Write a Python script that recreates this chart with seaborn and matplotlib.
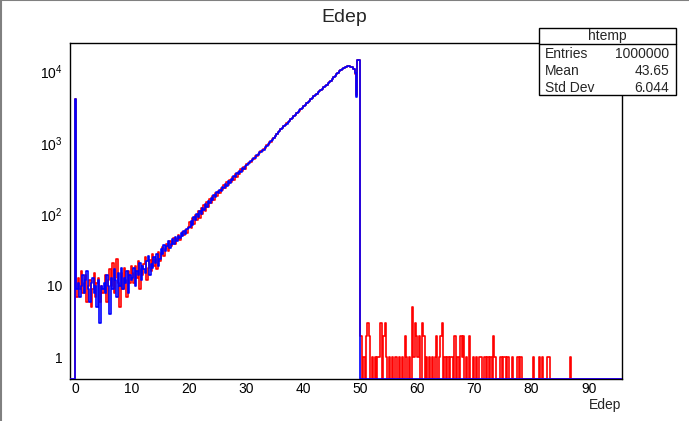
import numpy as np
import pandas as pd
import seaborn as sns
import matplotlib
matplotlib.use("Agg")
import matplotlib.pyplot as plt
from matplotlib.lines import Line2D
from matplotlib.patches import Rectangle
from matplotlib.ticker import LogLocator, MultipleLocator, NullFormatter, FixedLocator, FixedFormatter

# ---- data ----
# spike at Edep = 0 (narrow bin 0 .. 0.1)
red_spike = 4050
blue_spike = 4100

# counts for bin 0.1-0.25, then 0.25 wide bins up to 50 (one row = 5 units)
red_main = [
    10, 7, 13, 9, 16, 8, 11, 14, 6, 10, 12, 5, 9, 15, 7, 11, 13, 6, 10, 8,
    9, 14, 6, 12, 17, 10, 21, 8, 13, 24, 11, 5, 15, 9, 18, 12, 7, 16, 11, 19,
    15, 11, 19, 13, 22, 9, 17, 14, 20, 25, 12, 18, 23, 16, 28, 19, 24, 17, 30, 22,
    29, 35, 26, 33, 38, 31, 42, 36, 40, 47, 39, 45, 52, 44, 49, 57, 51, 60, 55, 66,
    78, 64, 88, 74, 97, 82, 110, 90, 122, 100, 135, 112, 150, 126, 166, 142, 182, 160, 200, 178,
    212, 196, 234, 216, 256, 236, 280, 258, 304, 280, 332, 306, 362, 334, 394, 364, 426, 398, 462, 430,
    497, 500, 541, 546, 590, 592, 645, 650, 702, 708, 764, 772, 830, 848, 922, 938, 1020, 1035, 1125, 1150,
    1243, 1311, 1398, 1471, 1553, 1617, 1703, 1776, 1864, 1946, 2043, 2136, 2244, 2336, 2453, 2566, 2694, 2816, 2954, 3086,
    3234, 3376, 3545, 3706, 3885, 4056, 4264, 4455, 4666, 4855, 5066, 5264, 5486, 5695, 5936, 6174, 6446, 6735, 7066, 7394,
    7782, 8186, 8624, 9096, 9565, 9946, 10306, 10636, 10966, 11254, 11506, 11646, 11766, 11514, 11344, 10620, 9100, 4600, 14300, 14200,
]
blue_main = [
    12, 9, 11, 7, 10, 14, 8, 12, 16, 9, 6, 11, 13, 8, 10, 5, 12, 3, 10, 9,
    11, 8, 14, 10, 4, 13, 9, 17, 12, 7, 15, 10, 18, 9, 13, 11, 16, 8, 14, 12,
    13, 18, 10, 16, 14, 21, 12, 19, 17, 15, 22, 26, 14, 20, 18, 25, 21, 28, 19, 24,
    33, 28, 37, 31, 36, 42, 34, 39, 45, 38, 48, 43, 50, 46, 54, 49, 58, 53, 62, 64,
    66, 80, 72, 92, 82, 102, 92, 112, 102, 124, 114, 138, 128, 154, 142, 170, 158, 188, 176, 206,
    198, 220, 212, 244, 232, 266, 252, 292, 276, 316, 302, 346, 330, 378, 360, 408, 392, 444, 428, 480,
    481, 520, 524, 564, 566, 617, 620, 676, 676, 736, 736, 798, 800, 870, 886, 966, 980, 1066, 1085, 1182,
    1237, 1319, 1392, 1479, 1547, 1623, 1697, 1784, 1856, 1954, 2037, 2144, 2236, 2344, 2447, 2574, 2686, 2824, 2946, 3094,
    3226, 3384, 3535, 3714, 3875, 4064, 4256, 4465, 4654, 4865, 5054, 5276, 5474, 5705, 5924, 6186, 6434, 6745, 7054, 7406,
    7774, 8194, 8616, 9104, 9555, 9954, 10296, 10644, 10956, 11264, 11496, 11656, 11756, 11524, 11334, 10630, 9400, 4400, 14500, 14400,
]

# red tail above 50, 0.25 wide bins (blue has nothing there)
red_tail = [
    2, 0, 1, 0, 2, 3, 2, 0, 1, 0,
    1, 0, 1, 1, 3, 0, 2, 3, 1, 0,
    1, 0, 1, 0, 1, 1, 0, 1, 0, 1,
    0, 2, 1, 0, 1, 0, 5, 1, 3, 2,
    1, 2, 0, 3, 2, 0, 1, 0, 1, 0,
    1, 0, 1, 2, 0, 1, 2, 3, 0, 1,
    0, 1, 0, 1, 1, 0, 2, 0, 1, 0,
    2, 1, 2, 0, 1, 0, 2, 0, 0, 1,
    0, 1, 0, 1, 1, 0, 0, 1, 0, 1,
    0, 1, 0, 2, 1, 0, 0, 0, 1, 0,
    1, 1, 0, 1, 0, 0, 1, 0, 0, 0,
    1, 0, 1, 0, 0, 0, 0, 0, 0, 0,
    0, 1, 0, 0, 0, 1, 0, 1, 0, 0,
    0, 1, 1, 0, 0, 0, 0, 0, 0, 0,
    0, 0, 0, 0, 0, 0, 0, 1, 0, 0,
    0, 0,
]
blue_tail = []

stats_rows = [("Entries", "1000000"), ("Mean", "43.65"), ("Std Dev", "6.044")]

# ---- bin edges ----
main_edges = np.concatenate([[0.1], np.arange(0.25, 50.125, 0.25)])
tail_edges = np.arange(50.25, 96.01, 0.25)
edges = np.concatenate([[-1.0, 0.0], main_edges, tail_edges])
n_tail = len(tail_edges)
centers = 0.5 * (edges[:-1] + edges[1:])

YMIN, YMAX = 0.5, 2.5e4


def hist_frame(spike, main, tail):
    tail = list(tail) + [0] * (n_tail - len(tail))
    h = np.array([0, spike] + list(main) + tail, dtype=float)
    # empty bins are drawn on the bottom of the frame, like ROOT does
    return pd.DataFrame({"edep": centers, "n": np.clip(h, YMIN, None)})


sns.set_style("white")
plt.rcParams["font.family"] = ["Liberation Sans", "DejaVu Sans"]

fig = plt.figure(figsize=(6.89, 4.21), dpi=100)
ax = fig.add_axes([0.1009, 0.0998, 0.8014, 0.7988])

for spike, main, tail, col in [(red_spike, red_main, red_tail, "#ff0000"),
                               (blue_spike, blue_main, blue_tail, "#0000ff")]:
    sns.histplot(data=hist_frame(spike, main, tail), x="edep", weights="n",
                 bins=list(edges), element="step", fill=False, color=col,
                 linewidth=1.2, ax=ax)

for ln in ax.lines:
    ln.set_zorder(3)

ax.set_yscale("log")
ax.set_xlim(-0.96, 95.8)
ax.set_ylim(YMIN, YMAX)
ax.set_ylabel("")

ax.xaxis.set_major_locator(MultipleLocator(10))
ax.xaxis.set_minor_locator(MultipleLocator(2))
ax.yaxis.set_major_locator(FixedLocator([1, 10, 100, 1000, 10000]))
ax.yaxis.set_major_formatter(FixedFormatter(
    ["1", "10", r"$\mathregular{10^{2}}$", r"$\mathregular{10^{3}}$", r"$\mathregular{10^{4}}$"]))
ax.yaxis.set_minor_locator(LogLocator(base=10, subs=np.arange(2, 10), numticks=20))
ax.yaxis.set_minor_formatter(NullFormatter())

ax.tick_params(axis="both", which="both", direction="in", top=False, right=False,
               labelsize=10, colors="black", width=0.8)
ax.tick_params(axis="y", which="major", length=11.5, pad=5)
ax.tick_params(axis="y", which="minor", length=5.8)
ax.tick_params(axis="x", which="major", length=7.5, pad=2.5)
ax.tick_params(axis="x", which="minor", length=3.8)

for sp in ax.spines.values():
    sp.set_color("black")
    sp.set_linewidth(1.0)

ax.set_xlabel("Edep", loc="right", fontsize=10, labelpad=1)

fig.text(0.5, 1 - 17 / 421, "Edep", ha="center", va="center", fontsize=14)

# stats box
bx0, bx1 = 539 / 689, 676 / 689
by0, by1 = 1 - 95 / 421, 1 - 28 / 421
fig.add_artist(Rectangle((bx0, by0), bx1 - bx0, by1 - by0, transform=fig.transFigure,
                         facecolor="white", edgecolor="black", linewidth=1.0, zorder=10))
div = 1 - 43.5 / 421
fig.add_artist(Line2D([bx0, bx1], [div, div], transform=fig.transFigure,
                      color="black", linewidth=1.0, zorder=11))
fig.text((bx0 + bx1) / 2, 1 - 36 / 421, "htemp", ha="center", va="center",
         fontsize=10, zorder=12)
for i, (name, val) in enumerate(stats_rows):
    yy = 1 - (54 + 17 * i) / 421
    fig.text(545 / 689, yy, name, ha="left", va="center", fontsize=10, zorder=12)
    fig.text(669 / 689, yy, val, ha="right", va="center", fontsize=10, zorder=12)

# canvas border (top and left)
fig.add_artist(Line2D([0, 1], [0.999, 0.999], transform=fig.transFigure, color="#808080", linewidth=1.5))
fig.add_artist(Line2D([0.001, 0.001], [0, 1], transform=fig.transFigure, color="#808080", linewidth=1.5))

fig.savefig("out.png", dpi=100)
